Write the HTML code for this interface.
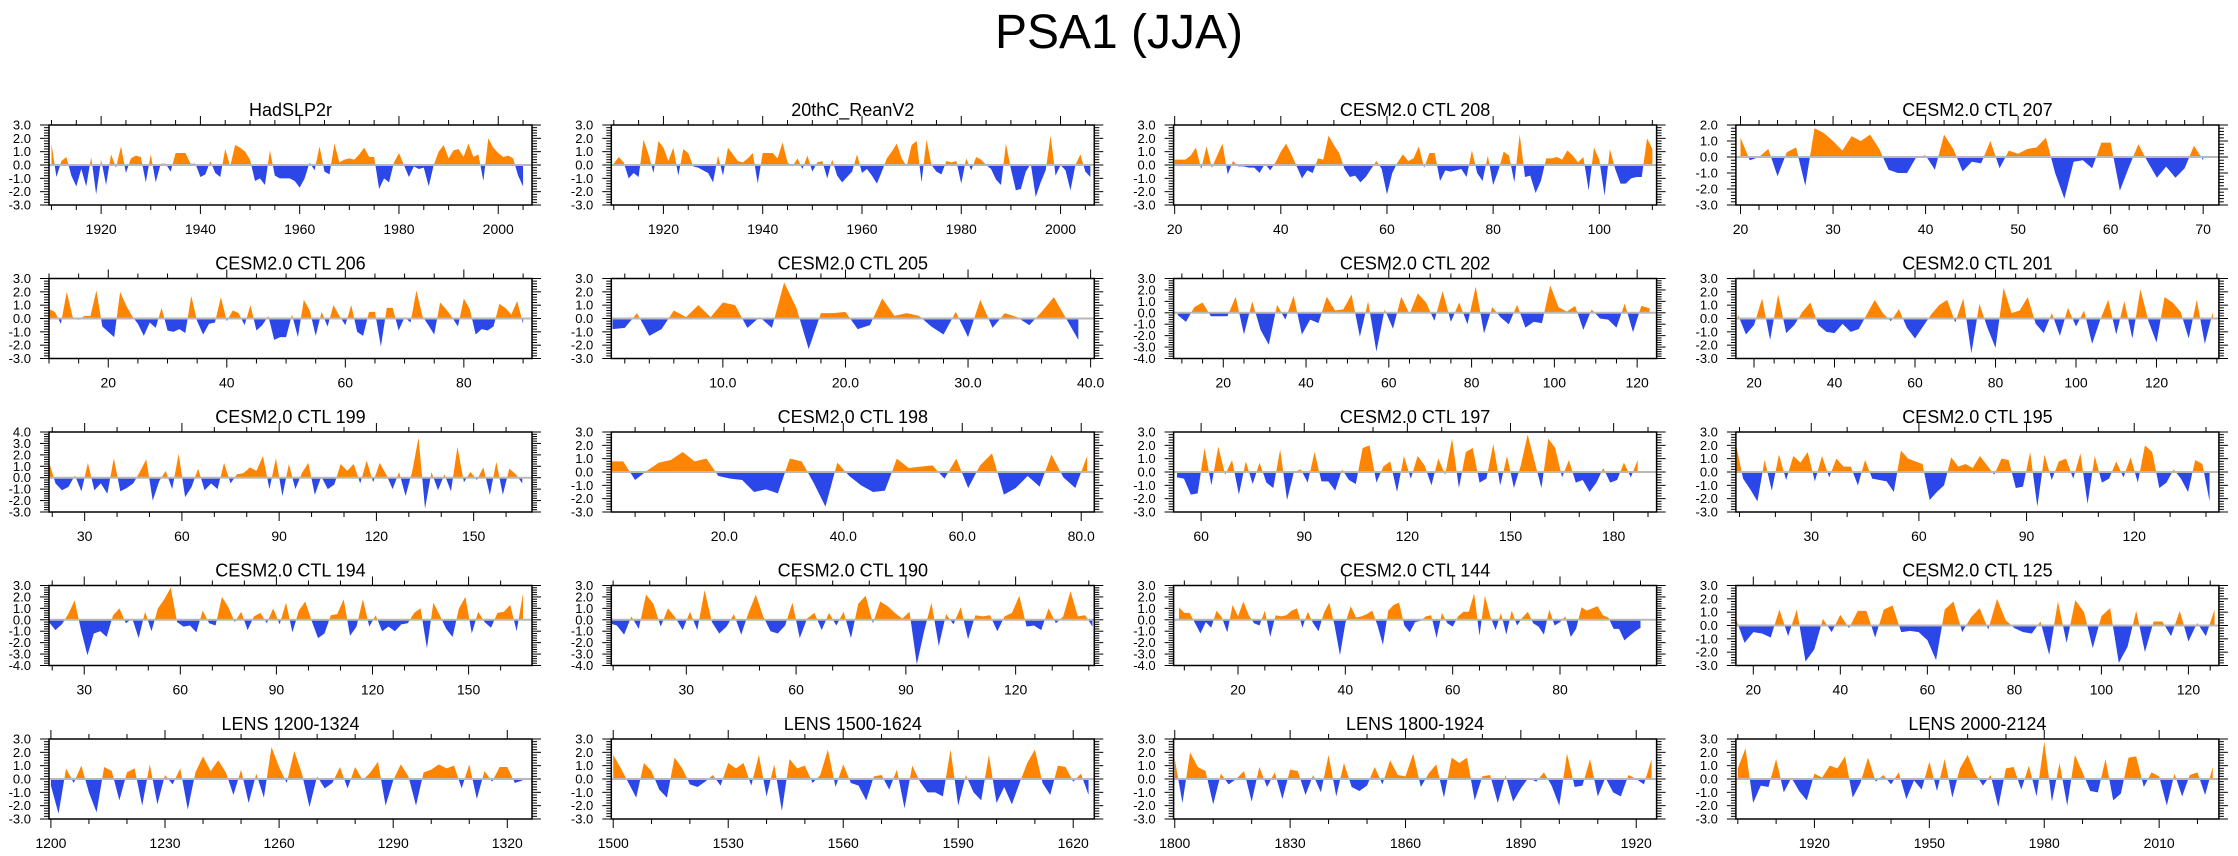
<!DOCTYPE html>
<html><head><meta charset="utf-8">
<style>
html,body{margin:0;padding:0;background:#fff;}
svg{display:block;font-family:"Liberation Sans",Arial,sans-serif;}
</style></head>
<body>
<svg id="chart" width="2238" height="856" viewBox="0 0 2238 856" xmlns="http://www.w3.org/2000/svg">
<rect width="2238" height="856" fill="#fff"/>
<text x="1119" y="48" text-anchor="middle" font-size="48" fill="#000">PSA1 (JJA)</text>
<g id="panels"></g>
</svg>
<script>
// ---- data ----
const titles = ["HadSLP2r","20thC_ReanV2","CESM2.0 CTL 208","CESM2.0 CTL 207","CESM2.0 CTL 206","CESM2.0 CTL 205","CESM2.0 CTL 202","CESM2.0 CTL 201","CESM2.0 CTL 199","CESM2.0 CTL 198","CESM2.0 CTL 197","CESM2.0 CTL 195","CESM2.0 CTL 194","CESM2.0 CTL 190","CESM2.0 CTL 144","CESM2.0 CTL 125","LENS 1200-1324","LENS 1500-1624","LENS 1800-1924","LENS 2000-2124"];
const startX = [1910,1910,20,20,10,1,9,16,19,1,53,9,19,9,9,16,1200,1500,1800,1900];
const stepX  = [1,1,1,1,1,1,2,2,2,2,2,2,2,2,1,2,2,2,2,2];
const xMin = [1909.5,1909.5,19.8,19.5,10,0.9,8,15.5,19,1,52,9,19,9.5,8,16,1199.5,1499.5,1799.7,1899.5];
const xMax = [2006.8,2006.8,110.8,71.7,91.5,40.3,124.7,135.5,168,82.2,192.5,143.6,169.8,141.5,98,127,1326.5,1625.5,1925.3,2025.6];
const yMin = [-3,-3,-3,-3,-3,-3,-4,-3,-3,-3,-3,-3,-4,-4,-4,-3,-3,-3,-3,-3];
const yMax = [3,3,3,2,3,3,3,3,4,3,3,3,3,3,3,3,3,3,3,3];
const majorStart = [1920,1920,20,20,20,10,20,20,30,20,60,30,30,30,20,20,1200,1500,1800,1920];
const majorStep  = [20,20,20,10,20,10,20,20,30,20,30,30,30,30,20,20,30,30,30,30];
const minorStep  = [5,5,5,2,5,2,5,5,10,5,10,10,10,10,5,5,10,10,10,10];
const labelDecimals = [0,0,0,0,0,1,0,0,0,1,0,0,0,0,0,0,0,0,0,0];

const v0 = [1.6,-0.9,0.3,0.6,-0.8,-1.6,-0.3,-1.6,0.6,-2.2,0.4,-1.5,0.8,-0.2,1.4,-0.6,0.5,0.7,0.6,-1.3,0.8,-1.3,0.1,0.1,-0.5,0.9,0.9,0.9,0.1,0.1,-0.9,-0.7,0.3,-0.6,-0.9,1.2,-0.1,1.5,1.3,1.0,0.4,-1.2,-1.0,-1.5,1.1,-0.8,-1.0,-1.0,-1.0,-1.2,-1.7,-1.0,0.2,-0.4,1.4,-0.5,-0.7,1.6,0.2,0.4,0.5,0.4,0.8,1.3,0.6,0.6,-1.8,-1.0,-1.3,0.2,0.9,0.0,-0.9,-0.1,-0.3,-0.2,-1.6,0.0,1.0,1.5,0.5,1.1,1.2,0.6,1.6,0.6,0.8,-1.2,2.0,1.3,0.9,0.6,0.7,0.5,-0.8,-1.6];
const v1 = [0.1,0.6,0.2,-1.0,-0.6,-0.9,1.9,0.8,-0.6,1.8,1.3,0.3,1.3,-0.8,1.2,0.9,-0.1,-0.2,-0.4,-0.6,-1.3,0.7,-0.8,1.3,0.8,0.3,0.2,0.5,0.9,-1.4,0.9,0.9,0.9,0.5,1.7,0.2,-0.1,0.5,-0.3,0.7,-0.5,0.2,0.3,-1.0,0.4,-0.8,-1.3,-0.9,-0.5,0.8,-0.6,-0.3,-0.8,-1.4,-0.5,0.5,1.0,1.6,0.5,-0.1,1.5,1.8,-1.3,1.9,0.0,-0.5,-0.7,0.3,0.2,0.3,-1.4,0.5,-0.4,0.6,0.4,0.0,-0.3,-1.1,-1.5,1.6,-0.3,-1.9,-1.8,-0.5,0.1,-2.4,-1.3,-0.4,2.2,-0.8,0.0,-0.4,-1.9,0.0,0.8,-0.5,-0.9];
const v2 = [0.4,0.4,0.4,0.7,1.3,-0.3,1.4,-0.2,0.7,1.6,-0.7,0.3,-0.1,-0.1,-0.2,-0.2,-0.6,0.1,-0.4,0.2,1.0,1.6,0.8,-0.1,-1.0,-0.4,-0.6,0.5,0.4,2.2,1.5,0.9,-0.3,-0.9,-0.8,-1.3,-0.9,-0.3,0.3,-0.3,-2.2,-0.6,0.2,0.8,0.3,0.5,1.4,-0.2,0.9,0.9,-1.2,-0.4,-0.5,-0.4,-0.3,-0.9,1.1,-0.6,-1.2,0.7,-1.5,-0.4,1.0,0.7,-1.3,2.3,-0.9,-0.8,-2.1,-1.2,0.5,0.5,0.6,0.4,1.1,0.7,0.2,0.6,-1.9,1.3,0.4,-2.3,1.2,-0.3,-1.4,-1.4,-1.0,-0.9,-0.9,2.0,1.2];
const v3 = [1.2,-0.2,0.0,0.5,-1.2,0.3,0.6,-1.8,1.8,1.5,1.0,0.4,1.3,1.0,1.4,0.5,-0.8,-1.0,-1.0,0.0,0.1,-0.8,1.4,0.5,-0.9,-0.3,-0.4,1.0,-0.7,0.4,0.2,0.5,0.6,1.2,-1.0,-2.6,-0.3,-0.2,-0.7,0.9,0.9,-2.1,-0.6,0.8,-0.3,-1.3,-0.6,-1.3,-0.7,0.7,-0.2];
const v4 = [0.7,0.5,-0.4,2.0,0.1,-0.1,0.2,0.2,2.1,-0.6,-1.0,-1.4,2.0,1.0,0.2,-0.4,-1.3,-0.3,-0.7,0.8,-0.9,-1.0,-0.8,-1.1,1.7,-0.2,-1.2,-0.4,-0.3,1.6,-0.2,0.6,0.4,-0.5,1.0,-0.9,-0.5,0.2,-1.6,-1.4,-1.4,0.3,-1.4,1.4,0.6,-1.3,0.5,-0.6,1.0,0.2,-0.5,1.0,-1.0,-1.3,0.5,0.5,-2.1,0.8,0.8,-0.9,0.1,-0.3,2.1,0.2,-0.5,-1.2,1.2,0.7,0.1,-0.6,1.5,0.7,-1.2,-0.8,-0.9,-0.6,1.1,0.8,0.3,1.3,-0.4];
const v5 = [-0.8,-0.7,0.4,-1.3,-0.8,0.6,0.1,1.0,0.1,1.2,1.0,-0.7,0.1,-0.7,2.7,0.8,-2.3,0.4,0.4,0.5,-0.8,-0.5,1.5,0.2,0.4,0.2,-0.6,-1.2,0.5,-1.4,1.4,-0.7,0.4,0.1,-0.5,0.5,1.6,0.0,-1.6];
const v6 = [-0.2,-0.8,0.5,0.9,-0.3,-0.3,-0.3,1.4,-1.9,1.0,-1.5,-2.8,0.7,-0.6,1.5,-1.9,-0.6,-0.9,1.4,0.2,0.3,1.6,-2.1,1.0,-3.4,0.3,-1.4,1.4,-0.1,1.7,0.9,-0.7,1.9,-0.8,0.9,-1.0,2.3,-1.8,0.5,-0.4,-1.0,0.7,-1.3,-0.8,-0.9,2.4,0.5,0.1,0.6,-1.5,0.3,-0.5,-0.6,-1.3,0.8,-1.7,0.6,0.4];
const v7 = [0.3,-1.2,-0.5,1.5,-1.6,1.8,-1.1,-0.5,0.5,1.2,-0.5,-1.0,-1.1,-0.4,-1.0,-0.8,0.3,1.4,0.4,-0.2,0.7,-0.7,-1.5,-0.6,0.3,1.0,1.4,-0.3,1.5,-2.6,1.1,-0.7,-2.2,2.3,0.4,0.6,1.6,-0.4,-1.1,0.4,-1.3,0.8,-0.6,0.6,-1.9,-0.1,1.4,-1.2,1.3,-1.5,2.2,-0.2,-1.8,1.6,1.2,0.5,-1.5,1.4,-1.9,0.5];
const v8 = [1.4,-0.5,-1.1,-0.8,0.2,-1.2,1.3,-1.1,-0.5,-1.4,1.7,-1.2,-0.9,-0.5,0.5,1.6,-2.0,-0.3,0.6,-1.0,2.1,-1.7,-0.8,0.8,-1.1,-0.5,-1.0,1.3,-0.5,0.3,0.4,0.9,0.6,1.9,-1.0,1.7,-1.6,1.2,-1.0,0.4,1.3,-1.5,0.1,-1.0,-0.6,1.2,0.6,1.2,-0.5,1.5,-0.4,1.3,0.3,-1.0,0.5,-1.6,0.5,3.5,-2.7,0.5,-1.1,0.3,-1.2,2.7,-0.4,0.5,-0.2,0.9,-1.5,1.4,-1.5,0.8,0.3,-0.5];
const v9 = [0.8,0.8,-0.6,0.1,0.7,0.9,1.5,0.8,1.0,-0.3,-0.5,-0.6,-1.5,-1.3,-1.6,1.0,0.8,-0.8,-2.6,0.7,-0.3,-1.0,-1.5,-1.4,1.0,0.3,0.4,0.5,-0.5,1.0,-1.2,0.5,1.4,-1.7,-1.2,-0.3,-1.1,1.3,-0.4,-1.2,1.2];
const v10 = [-0.4,-0.5,-1.7,-1.6,1.8,-1.0,1.9,-0.2,0.9,-1.7,0.8,-0.9,0.7,-0.8,-1.2,1.7,-2.1,0.0,0.2,-0.8,1.5,-0.7,-0.7,-1.4,0.2,-0.6,-0.9,1.8,2.0,-0.8,0.4,0.8,-1.5,1.2,-0.5,1.2,0.5,-1.0,1.0,-0.2,2.5,-1.2,1.5,1.8,-0.8,-0.5,2.1,-1.0,1.2,-1.2,0.5,2.8,0.8,-1.2,2.5,1.8,-0.4,0.9,-0.8,-0.6,-1.5,-0.8,0.3,-0.8,-0.6,0.7,-0.4,0.9];
const v11 = [2.1,-0.5,-1.3,-2.2,0.9,-1.4,1.3,-0.6,1.2,0.7,1.5,-0.7,1.2,-0.4,1.0,0.4,0.4,-1.0,0.9,-0.5,-0.6,-0.7,-1.5,1.6,1.0,0.8,0.6,-2.1,-1.5,-1.0,1.1,0.4,0.6,0.3,1.2,0.5,-0.2,1.0,0.9,-1.2,-1.1,1.5,-2.6,1.3,-0.6,0.8,1.0,-0.5,1.4,-2.4,1.2,-0.8,-0.5,0.8,-0.4,1.1,-0.8,2.0,1.5,-1.2,-0.8,0.2,-0.5,-1.5,0.9,0.6,-2.2];
const v12 = [-0.2,-0.9,-0.4,0.5,1.7,-0.9,-3.1,-1.2,-1.0,-1.5,0.4,1.0,-0.3,0.1,-1.6,0.7,-1.0,1.0,1.8,2.8,-0.2,-0.6,-0.5,-1.1,0.8,-0.3,-0.5,2.0,1.1,-0.2,0.7,-0.9,0.3,0.6,-0.3,1.0,-0.4,1.5,-1.1,0.8,1.6,-0.1,-1.6,-1.2,0.4,0.5,1.8,-1.4,-0.6,1.8,-0.6,0.4,-1.0,-0.6,-1.0,-0.4,-0.3,0.6,1.0,-2.5,1.5,0.4,-0.8,-1.5,1.0,2.0,-1.2,0.7,-0.2,-0.7,0.6,0.7,1.3,-1.0,2.3];
const v13 = [-0.3,-0.5,-1.3,0.3,-0.8,2.2,1.4,-0.6,1.0,0.2,-0.9,0.7,-0.9,2.6,-0.2,-1.2,-0.6,0.5,-1.3,0.6,2.2,0.3,-1.0,-1.2,-0.5,1.5,-1.6,0.1,0.6,-0.9,0.6,-0.5,0.7,-1.6,1.4,2.1,-0.3,1.6,1.2,0.6,0.1,0.7,-3.9,-1.0,1.5,-2.3,0.5,-0.4,1.1,-1.7,0.4,0.3,0.4,-1.0,0.3,0.6,2.1,-0.6,-0.5,-0.9,1.0,-0.3,0.3,2.5,0.3,0.4,-0.6];
const v14 = [1.1,0.6,0.6,-0.3,-1.2,-0.2,-0.7,0.8,0.2,-1.1,1.3,0.3,1.6,0.4,-0.3,-0.5,0.8,-1.5,0.4,0.3,0.4,0.8,1.0,-0.7,0.7,-0.3,-1.0,0.6,1.5,-0.5,-3.1,-0.3,1.2,0.2,0.3,0.5,0.8,-0.5,-2.2,0.8,1.3,1.5,-0.5,-1.1,-0.2,-0.1,0.3,0.4,-1.6,0.6,-0.3,-0.6,0.3,0.7,0.7,2.3,-1.4,2.1,0.3,-0.9,0.6,-1.3,0.8,-0.5,0.2,0.7,-0.3,-0.6,-1.3,0.9,-0.5,-0.2,0.3,-1.5,-0.8,1.1,0.8,1.0,1.2,0.4,0.2,-0.8,-0.8,-1.8,-1.4,-1.0,-0.7];
const v15 = [0.5,-1.3,-0.5,-0.6,-0.9,1.2,-0.8,1.2,-2.7,-1.8,0.5,-0.5,0.8,-0.2,1.1,1.1,-0.9,1.2,1.5,-0.5,-0.4,-0.5,-1.1,-2.6,1.2,1.8,-0.5,0.6,1.3,-0.3,2.0,0.4,-0.2,-0.5,-0.6,0.3,-2.2,1.8,-1.3,1.9,1.0,-1.7,0.7,1.3,-2.8,-1.6,1.1,-2.0,0.3,0.3,-0.8,1.1,-1.2,0.2,-0.8,1.2];
const v16 = [-0.5,-2.6,0.8,-0.3,1.0,-1.0,-2.5,0.9,0.6,-1.6,0.5,0.8,-2.0,1.1,-1.9,0.3,-0.4,0.8,-2.3,0.5,1.7,0.6,1.4,0.5,-1.2,0.7,-1.8,0.4,-1.4,2.4,0.9,-0.3,2.1,0.4,-2.1,0.2,-0.7,-0.3,0.9,-0.7,0.9,-0.1,0.5,1.3,-2.0,-0.1,1.1,0.2,-2.0,0.5,0.7,1.1,0.8,1.0,-0.7,1.1,-1.5,0.6,-0.2,0.9,0.9,-0.3,-0.1];
const v17 = [1.8,0.8,-0.3,-1.4,1.2,0.6,-0.8,-1.4,1.6,0.8,-0.4,-0.6,-0.2,0.3,-0.5,1.2,0.8,1.2,-0.5,1.8,-1.3,1.1,-2.4,1.5,0.8,1.0,-0.3,0.3,2.2,-0.6,1.1,-0.3,-0.5,-1.6,0.2,0.3,-0.8,0.7,-2.2,1.0,-0.2,-1.0,-1.0,-1.3,2.2,-2.0,0.3,-1.0,-1.6,1.8,-1.8,-0.6,-1.9,-0.3,1.2,2.2,-0.3,-1.2,1.0,0.9,-0.2,0.4,-1.2];
const v18 = [1.5,-1.8,2.0,0.9,0.6,-1.9,0.4,-0.4,0.0,0.6,-1.7,0.9,-0.6,0.5,-1.5,0.7,0.6,-1.2,0.3,-1.0,1.8,-1.3,1.2,-0.6,-0.9,-0.5,0.9,-0.4,1.4,0.3,0.2,1.9,-0.6,0.4,1.1,-1.4,1.6,1.2,1.6,-1.6,0.2,0.3,-1.8,0.3,-1.7,-0.7,0.1,-0.2,0.5,-0.5,-2.0,1.9,-0.6,-0.5,1.5,-1.3,0.1,-1.0,-1.3,0.3,0.0,-0.4,1.5];
const v19 = [0.8,2.3,-1.8,-0.5,-0.6,1.5,-1.0,0.1,-0.9,-1.6,0.4,0.1,1.0,0.8,1.7,-1.4,-0.3,1.6,-0.2,0.3,-0.4,0.5,-1.5,-0.1,-0.8,1.3,-0.9,1.5,-1.4,0.8,1.8,0.4,-0.5,0.3,-2.1,0.8,0.9,-0.8,1.0,-1.3,2.8,-1.7,1.2,-2.0,1.8,0.5,-0.9,-1.0,1.5,-1.6,-1.1,1.6,1.7,-0.6,0.5,0.2,-2.0,0.4,-1.3,0.3,0.5,-1.2,0.9];
const seriesValues = [v0,v1,v2,v3,v4,v5,v6,v7,v8,v9,v10,v11,v12,v13,v14,v15,v16,v17,v18,v19];

// ---- layout ----
const NS = "http://www.w3.org/2000/svg";
const panelsG = document.getElementById('panels');
const COL0 = 49, COLP = 562.3, PW = 483, ROW0 = 125, ROWP = 153.5, PH = 80;
const ORANGE = "#ff8400", BLUE = "#2b47e8";

function mk(tag, attrs, parent){
  const e = document.createElementNS(NS, tag);
  for (const k in attrs) e.setAttribute(k, attrs[k]);
  if (parent) parent.appendChild(e);
  return e;
}

for (let p = 0; p < 20; p++) {
  const col = p % 4, row = Math.floor(p / 4);
  const L = COL0 + col * COLP, T = ROW0 + row * ROWP, R = L + PW, B = T + PH;
  const xs = v => L + (v - xMin[p]) / (xMax[p] - xMin[p]) * PW;
  const ys = v => B - (v - yMin[p]) / (yMax[p] - yMin[p]) * PH;
  const g = mk('g', {}, panelsG);
  
  

  const t = mk('text', {x: L + PW / 2, y: T - 9, 'text-anchor': 'middle', 'font-size': 18, fill: '#000'}, g);
  t.textContent = titles[p];
  
  

  const y0 = ys(0);
  const cpU = mk('clipPath', {id: 'cu' + p}, g);
  mk('rect', {x: L, y: T, width: PW, height: y0 - T}, cpU);
  const cpD = mk('clipPath', {id: 'cd' + p}, g);
  mk('rect', {x: L, y: y0, width: PW, height: B - y0}, cpD);

  const vals = seriesValues[p];
  let d = 'M' + xs(startX[p]).toFixed(2) + ',' + y0.toFixed(2);
  for (let i = 0; i < vals.length; i++) {
    const xv = startX[p] + i * stepX[p];
    d += ' L' + xs(xv).toFixed(2) + ',' + ys(vals[i]).toFixed(2);
  }
  d += ' L' + xs(startX[p] + (vals.length - 1) * stepX[p]).toFixed(2) + ',' + y0.toFixed(2) + ' Z';
  const pos = mk('path', {d: d, fill: ORANGE, 'clip-path': 'url(#cu' + p + ')'}, g);
  
  
  const neg = mk('path', {d: d, fill: BLUE, 'clip-path': 'url(#cd' + p + ')'}, g);
  
  

  const zl = mk('line', {x1: L, x2: R, y1: y0, y2: y0, stroke: '#b8b8b8', 'stroke-width': 2}, g);
  
  

  const fr = mk('rect', {x: L, y: T, width: PW, height: PH, fill: 'none', stroke: '#000', 'stroke-width': 1.5}, g);
  
  

  const tg = mk('g', {stroke: '#000', 'stroke-width': 1}, g);
  
  
  const ms = minorStep[p];
  for (let v = Math.ceil(xMin[p] / ms) * ms; v <= xMax[p] + 1e-6; v += ms) {
    const x = xs(v);
    const isMaj = Math.abs(((v - majorStart[p]) / majorStep[p]) - Math.round((v - majorStart[p]) / majorStep[p])) < 1e-6;
    const len = isMaj ? 9 : 5;
    mk('line', {x1: x, x2: x, y1: B, y2: B + len}, tg);
    mk('line', {x1: x, x2: x, y1: T, y2: T - len}, tg);
  }
  for (let v = majorStart[p]; v <= xMax[p] + 1e-6; v += majorStep[p]) {
    const lb = mk('text', {x: xs(v), y: B + 29, 'text-anchor': 'middle', 'font-size': 14, fill: '#000'}, g);
    lb.textContent = v.toFixed(labelDecimals[p]);
    
    
  }
  for (let k = Math.round(yMin[p] * 5); k <= Math.round(yMax[p] * 5); k++) {
    const v = k / 5, y = ys(v);
    const isMaj = k % 5 === 0;
    const len = isMaj ? 9 : 5;
    mk('line', {x1: L, x2: L - len, y1: y, y2: y}, tg);
    mk('line', {x1: R, x2: R + len, y1: y, y2: y}, tg);
    if (isMaj) {
      const lb = mk('text', {x: L - 18, y: y + 4.5, 'text-anchor': 'end', 'font-size': 13, fill: '#000'}, g);
      lb.textContent = v.toFixed(1);
      
      
    }
  }
}
</script>
</body></html>
